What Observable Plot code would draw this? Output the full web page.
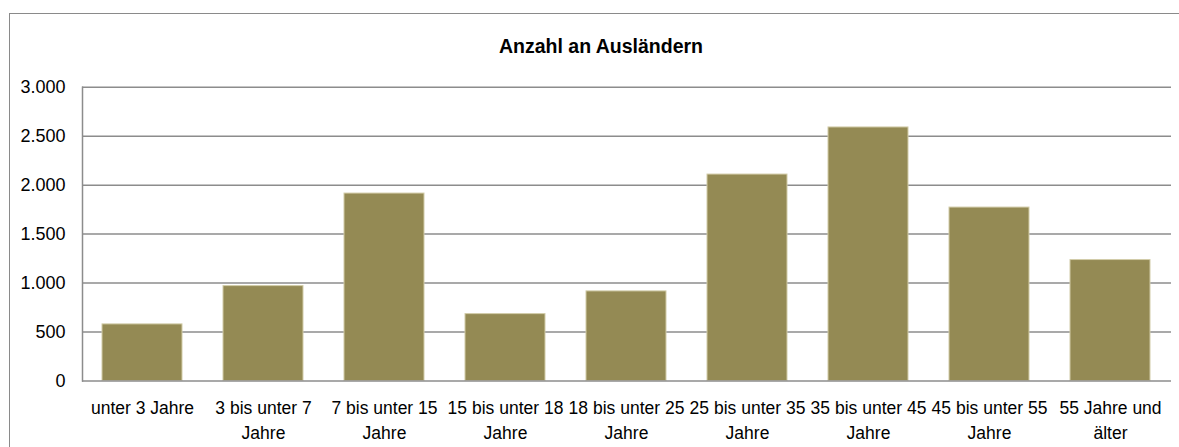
<!DOCTYPE html>
<html>
<head>
<meta charset="utf-8">
<script src="https://cdn.jsdelivr.net/npm/d3@7"></script>
<script src="https://cdn.jsdelivr.net/npm/@observablehq/plot@0.6"></script>
<style>
  html, body { margin: 0; padding: 0; background: #fff; }
  #wrap { position: relative; width: 1179px; height: 447px; overflow: hidden; }
  #border { position: absolute; left: 9px; top: 13px; width: 1200px; height: 500px; border: 1.5px solid #8a8a8a; box-sizing: border-box; pointer-events: none; }
</style>
</head>
<body>
<div id="wrap"><div id="border"></div></div>
<script>
const title = ["Anzahl an Ausländern"];
const categories = [
  "unter 3 Jahre",
  "3 bis unter 7 Jahre",
  "7 bis unter 15 Jahre",
  "15 bis unter 18 Jahre",
  "18 bis unter 25 Jahre",
  "25 bis unter 35 Jahre",
  "35 bis unter 45 Jahre",
  "45 bis unter 55 Jahre",
  "55 Jahre und älter"
];
const categoryLabels = [
  "unter 3 Jahre",
  "3 bis unter 7\nJahre",
  "7 bis unter 15\nJahre",
  "15 bis unter 18\nJahre",
  "18 bis unter 25\nJahre",
  "25 bis unter 35\nJahre",
  "35 bis unter 45\nJahre",
  "45 bis unter 55\nJahre",
  "55 Jahre und\nälter"
];
const values = [578, 969, 1914, 683, 915, 2108, 2589, 1771, 1235];
const yTicks = [0, 500, 1000, 1500, 2000, 2500, 3000];

const data = categories.map((c, i) => ({category: c, value: values[i]}));
const labelOf = new Map(categories.map((c, i) => [c, categoryLabels[i]]));
const fmt = d => d3.format(",")(d).replace(/,/g, ".");

const chart = Plot.plot({
  width: 1179,
  height: 447,
  marginLeft: 82,
  marginRight: 8,
  marginTop: 86.7,
  marginBottom: 66.5,
  style: {fontFamily: '"Liberation Sans", Arial, sans-serif', fontSize: "18px", color: "#000", background: "transparent", overflow: "visible"},
  x: {domain: categories, paddingInner: 0.338, paddingOuter: 0.169, label: null},
  y: {domain: [0, 3000], label: null},
  marks: [
    Plot.ruleY(yTicks.filter(d => d > 0), {stroke: "#8c8c8c", strokeWidth: 1.5}),
    Plot.barY(data, {x: "category", y: "value", fill: "#948A54", stroke: "#d2cca8", strokeWidth: 1}),
    Plot.ruleY([0], {stroke: "#8c8c8c", strokeWidth: 1.5}),
    Plot.frame({anchor: "left", stroke: "#8c8c8c", strokeWidth: 1.5}),
    Plot.axisY({ticks: yTicks, tickSize: 0, tickPadding: 17, tickFormat: fmt, fontSize: 18, label: null}),
    Plot.axisX({tickSize: 0, tickPadding: 16, tickFormat: d => labelOf.get(d), fontSize: 17.5, lineHeight: 1.4, label: null}),
    Plot.text(title, {frameAnchor: "top", dx: -26, dy: -40, text: d => d, fontSize: 19.5, fontWeight: "bold", lineAnchor: "middle", fill: "#000"})
  ]
});
document.getElementById("wrap").appendChild(chart);
chart.style.position = "absolute";
chart.style.left = "0px";
chart.style.top = "0px";
</script>
</body>
</html>
